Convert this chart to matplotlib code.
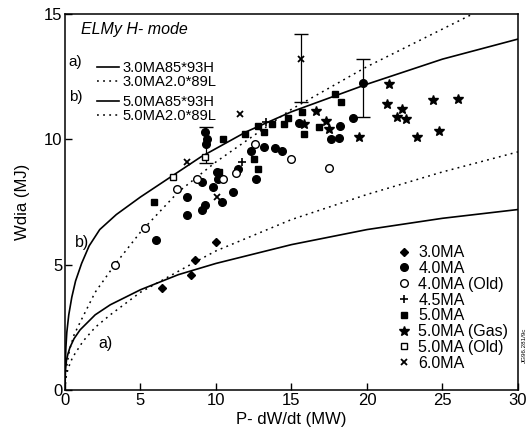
import matplotlib
matplotlib.use("Agg")
import matplotlib.pyplot as plt

plt.rcParams['font.family'] = ['Liberation Sans', 'DejaVu Sans']

# scaling curves
a_solid_x = [0, 0.03, 0.1, 0.2, 0.33, 0.6, 1, 2, 3, 5, 7.5, 10, 15, 20, 25, 30]
a_solid_y = [0, 0.8, 1.2, 1.45, 1.7, 2.05, 2.4, 3.0, 3.4, 4.0, 4.6, 5.05, 5.8, 6.4, 6.85, 7.2]
a_dash_x = [0, 0.05, 0.2, 0.5, 1.2, 2, 3, 5, 8.6, 10, 15, 20, 25, 30]
a_dash_y = [0, 0.45, 0.85, 1.3, 1.95, 2.5, 3.0, 3.9, 5.1, 5.55, 6.8, 7.8, 8.7, 9.5]
b_solid_x = [0, 0.02, 0.06, 0.12, 0.25, 0.45, 0.7, 1.1, 1.6, 2.3, 3.4, 5, 7, 9, 12, 15, 20, 25, 30]
b_solid_y = [0, 1.0, 1.7, 2.3, 3.0, 3.7, 4.35, 5.05, 5.75, 6.4, 7.0, 7.7, 8.5, 9.3, 10.3, 11.1, 12.2, 13.2, 14.0]
b_dash_x = [0, 0.05, 0.1, 0.3, 0.6, 1, 2, 3.3, 5, 7.5, 10, 15, 20, 25, 27]
b_dash_y = [0, 0.6, 0.9, 1.6, 2.2, 2.7, 3.9, 5.0, 6.3, 7.9, 9.1, 11.2, 12.9, 14.4, 15.0]

# data points
ma30_x = [6.4, 8.35, 8.6, 10.0]
ma30_y = [4.05, 4.6, 5.2, 5.9]
ma40_x = [6.05, 8.1, 9.1, 9.25, 8.1, 9.8, 10.1, 9.1, 10.05, 10.4, 11.15, 11.45, 12.65,
          12.3, 13.15, 13.9, 14.4, 15.5, 17.6, 18.15, 18.2, 19.1, 19.75, 9.4, 9.35, 9.3]
ma40_y = [6.0, 7.0, 7.2, 7.4, 7.7, 8.1, 8.4, 8.3, 8.7, 7.5, 7.9, 8.8, 8.4,
          9.55, 9.7, 9.65, 9.55, 10.65, 10.0, 10.05, 10.55, 10.85, 12.25, 10.0, 9.8, 10.3]
ma40old_x = [3.3, 5.3, 7.4, 8.75, 10.45, 11.3, 12.6, 15.0, 17.5]
ma40old_y = [5.0, 6.45, 8.0, 8.4, 8.4, 8.65, 9.8, 9.2, 8.85]
ma45_x = [11.7, 13.3]
ma45_y = [9.1, 10.7]
ma50_x = [5.9, 10.45, 11.9, 12.8, 13.2, 13.7, 14.5, 14.8, 12.5, 12.8, 15.8, 15.7,
          16.8, 18.3, 17.9, 10.2]
ma50_y = [7.5, 10.0, 10.2, 10.55, 10.3, 10.6, 10.6, 10.85, 9.2, 8.8, 10.2, 11.1,
          10.5, 11.5, 11.8, 8.7]
ma50gas_x = [16.6, 15.8, 17.3, 17.5, 19.5, 21.45, 21.3, 22.3, 22.0, 22.6, 24.4, 26.0, 23.3, 24.8]
ma50gas_y = [11.15, 10.6, 10.75, 10.4, 10.1, 12.2, 11.4, 11.2, 10.9, 10.8, 11.55, 11.6, 10.1, 10.35]
ma50old_x = [7.15, 9.3]
ma50old_y = [8.5, 9.3]
ma60_x = [8.1, 11.6, 10.05, 15.65]
ma60_y = [9.1, 11.0, 7.7, 13.2]

# error bars (x, centre, low end, high end)
eb_x = [9.35, 15.65, 19.75]
eb_y = [9.3, 13.2, 12.25]
eb_lo = [9.05, 11.5, 10.9]
eb_hi = [10.5, 14.2, 13.2]

fig = plt.figure(figsize=(5.31, 4.32), dpi=100)
ax = fig.add_axes([0.1224, 0.0972, 0.8531, 0.8704])

dot = (0, (1.2, 2.8))
la1, = ax.plot(a_solid_x, a_solid_y, color='black', lw=1.2)
la2, = ax.plot(a_dash_x, a_dash_y, color='black', lw=1.1, ls=dot)
lb1, = ax.plot(b_solid_x, b_solid_y, color='black', lw=1.2)
lb2, = ax.plot(b_dash_x, b_dash_y, color='black', lw=1.1, ls=dot)

ax.errorbar(eb_x, eb_y,
            yerr=[[y - l for y, l in zip(eb_y, eb_lo)], [h - y for y, h in zip(eb_y, eb_hi)]],
            fmt='none', ecolor='black', elinewidth=0.9, capsize=5, capthick=1.0)

ms = 5.5
ax.plot(ma30_x, ma30_y, 'D', color='black', ms=4.5, label='3.0MA')
ax.plot(ma40_x, ma40_y, 'o', color='black', ms=ms, label='4.0MA')
ax.plot(ma40old_x, ma40old_y, 'o', mfc='white', mec='black', mew=1.0, ms=ms, label='4.0MA (Old)')
ax.plot(ma45_x, ma45_y, '+', color='black', ms=6, mew=1.2, label='4.5MA')
ax.plot(ma50_x, ma50_y, 's', color='black', ms=5, label='5.0MA')
ax.plot(ma50gas_x, ma50gas_y, '*', color='black', ms=7, label='5.0MA (Gas)')
ax.plot(ma50old_x, ma50old_y, 's', mfc='white', mec='black', mew=1.0, ms=5, label='5.0MA (Old)')
ax.plot(ma60_x, ma60_y, 'x', color='black', ms=5, mew=1.3, label='6.0MA')

ax.set_xlim(0, 30)
ax.set_ylim(0, 15)
ax.set_xticks([0, 5, 10, 15, 20, 25, 30])
ax.set_yticks([0, 5, 10, 15])
ax.tick_params(direction='in', length=5, width=1, labelsize=12, pad=2)
for s in ax.spines.values():
    s.set_linewidth(1.1)
ax.set_xlabel('P- dW/dt (MW)', fontsize=12, labelpad=3)
ax.set_ylabel('Wdia (MJ)', fontsize=12, labelpad=10)

leg = ax.legend(loc='lower left', bbox_to_anchor=(0.72, 0.03), frameon=False,
                fontsize=11.5, handlelength=0.6, handletextpad=0.6,
                labelspacing=0.05, borderpad=0)
ax.add_artist(leg)

ax.text(0.035, 0.978, 'ELMy H- mode', transform=ax.transAxes, fontsize=11.5,
        style='italic', va='top')
la = ax.legend([la1, la2], ['3.0MA85*93H', '3.0MA2.0*89L'], loc='upper left',
               bbox_to_anchor=(0.055, 0.895), frameon=False, fontsize=10.6,
               handlelength=1.5, handletextpad=0.2, labelspacing=0.0, borderpad=0)
ax.add_artist(la)
lb = ax.legend([lb1, lb2], ['5.0MA85*93H', '5.0MA2.0*89L'], loc='upper left',
               bbox_to_anchor=(0.055, 0.803), frameon=False, fontsize=10.6,
               handlelength=1.5, handletextpad=0.2, labelspacing=0.0, borderpad=0)
ax.text(0.008, 0.872, 'a)', transform=ax.transAxes, fontsize=11, va='center')
ax.text(0.008, 0.78, 'b)', transform=ax.transAxes, fontsize=11, va='center')

ax.text(1.1, 5.9, 'b)', fontsize=11.5, ha='center', va='center')
ax.text(2.7, 1.85, 'a)', fontsize=11.5, ha='center', va='center')

fig.text(0.988, 0.2, 'JG96.281/9c', rotation=90, fontsize=4.5, ha='center', va='center')

fig.savefig('out.png', dpi=100)
